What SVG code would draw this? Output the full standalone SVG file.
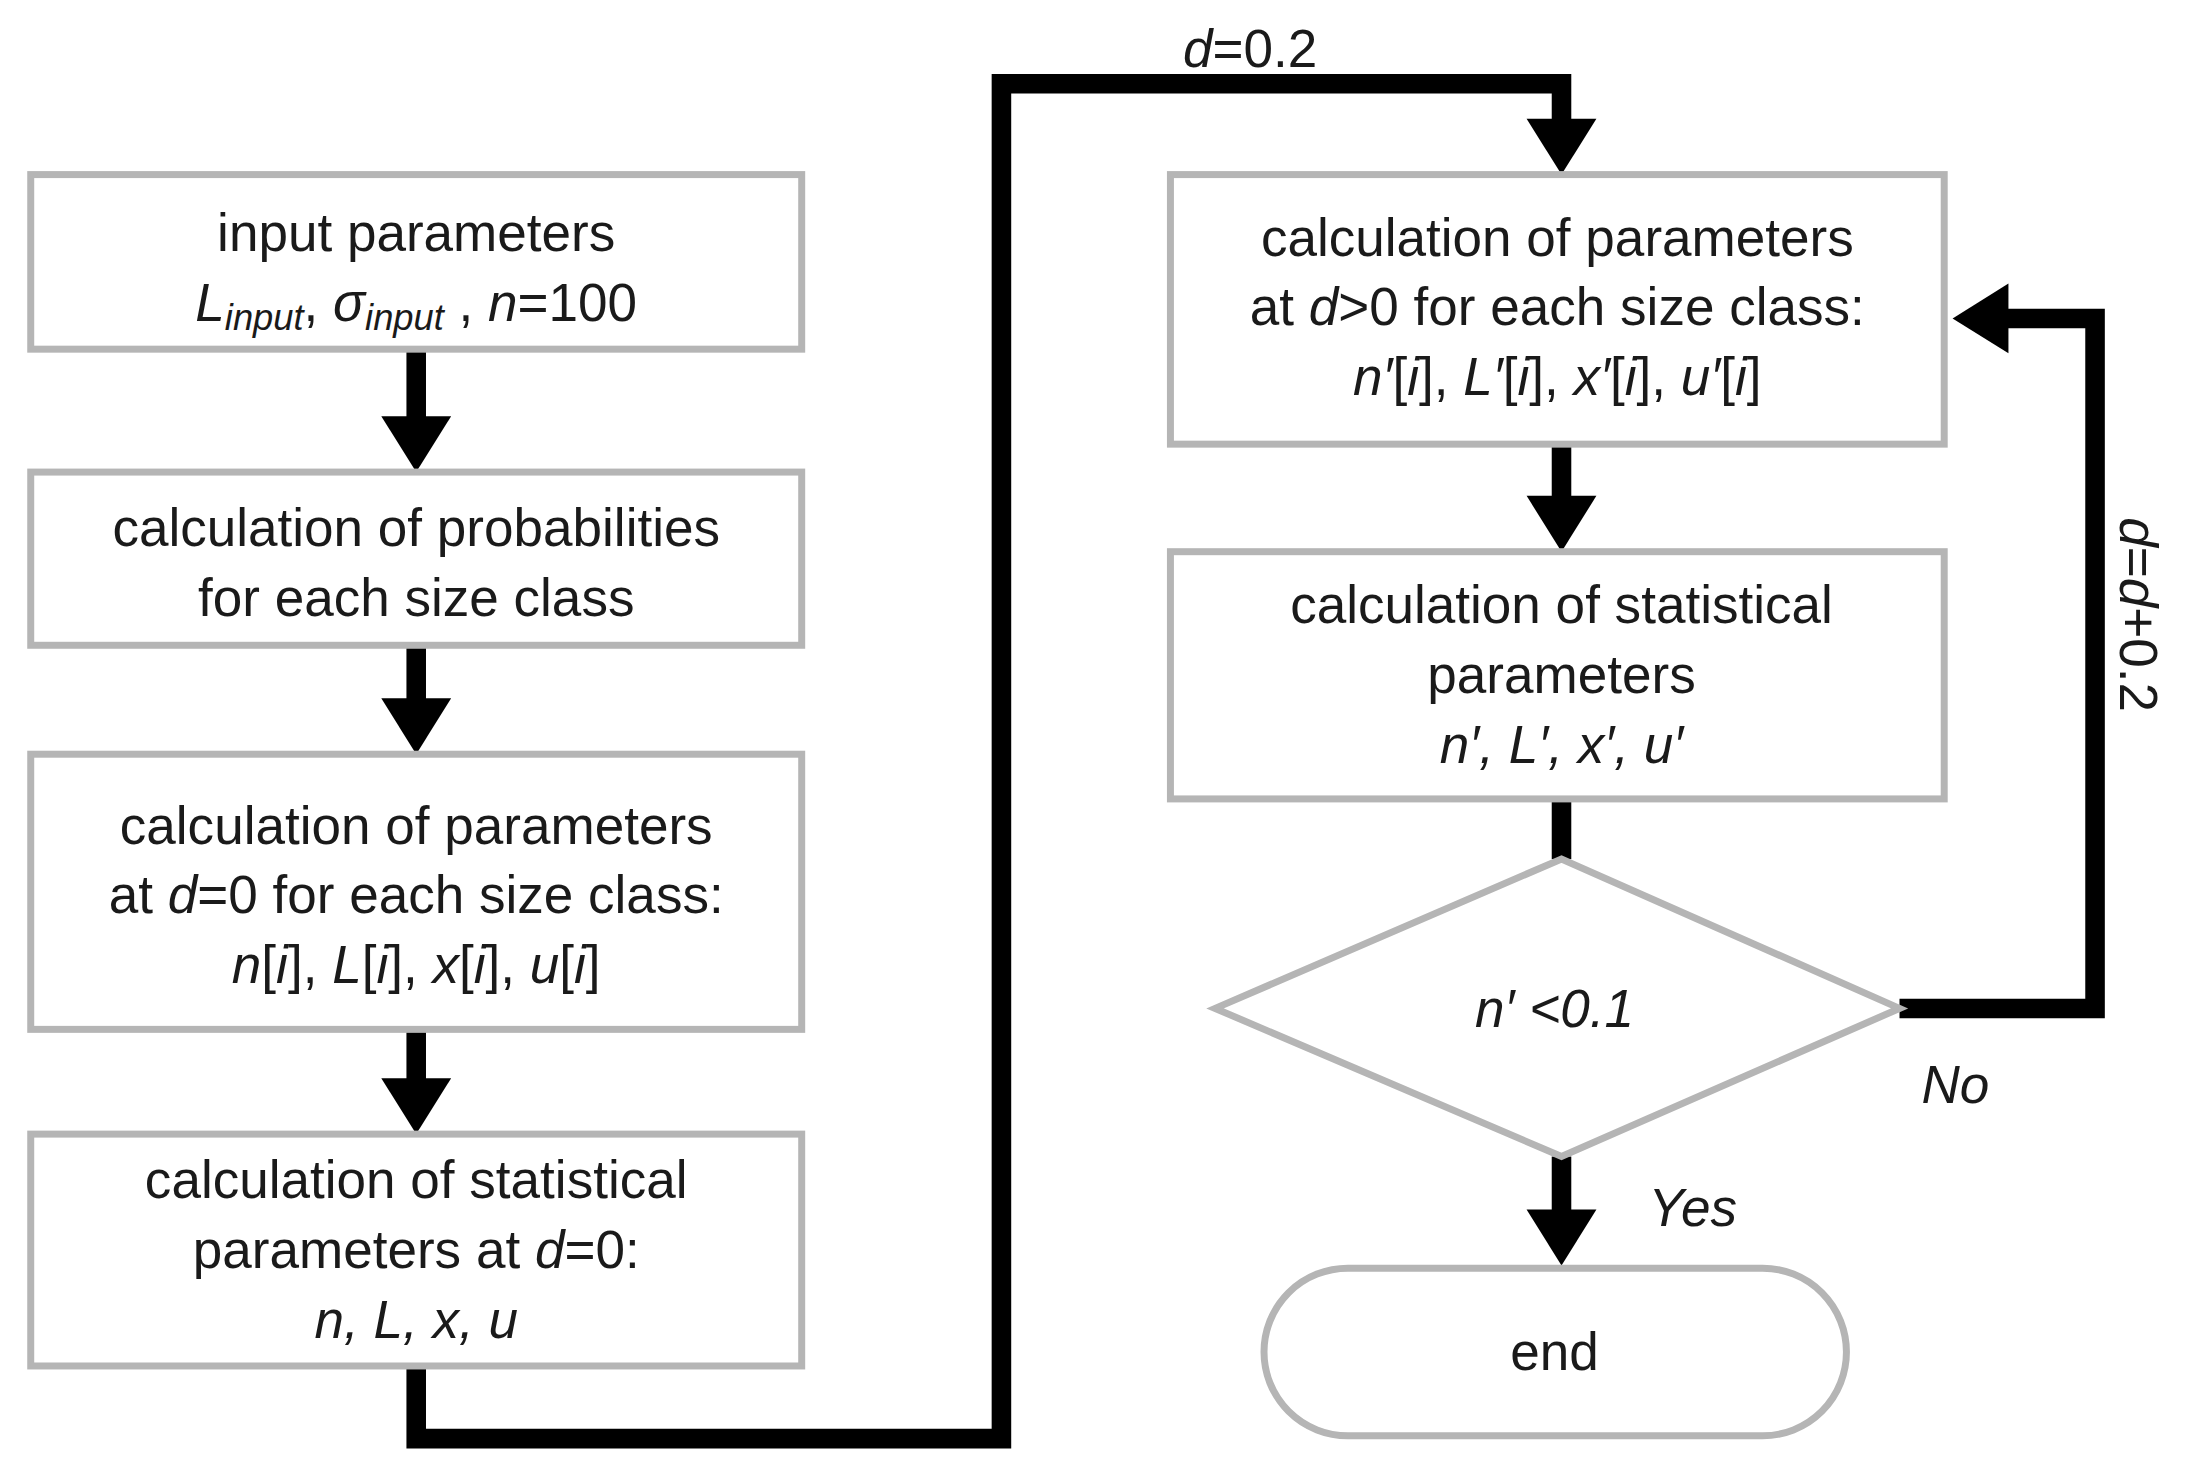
<svg xmlns="http://www.w3.org/2000/svg" width="2190" height="1477" viewBox="0 0 2190 1477">
<style>
.b{fill:#fff;stroke:#b5b5b5;stroke-width:5}
.t{font-family:"Liberation Sans",Arial,sans-serif;font-size:38px;text-anchor:middle;fill:#1a1a1a}
.i{font-style:italic}
.c{fill:none;stroke:#000;stroke-width:14}
.h{fill:#000}
</style>
<rect width="2190" height="1477" fill="#fff"/>
<g transform="scale(1.3967)">
<g id="connectors">
<line class="c" x1="298" y1="250" x2="298" y2="300"/><polygon class="h" points="273,298 323,298 298,338"/>
<line class="c" x1="298" y1="462" x2="298" y2="502"/><polygon class="h" points="273,500 323,500 298,540"/>
<line class="c" x1="298" y1="737" x2="298" y2="774"/><polygon class="h" points="273,772 323,772 298,812"/>
<polyline class="c" points="298,978 298,1030 717,1030 717,60 1118,60 1118,88"/><polygon class="h" points="1093,85 1143,85 1118,125"/>
<line class="c" x1="1118" y1="318" x2="1118" y2="357"/><polygon class="h" points="1093,355 1143,355 1118,395"/>
<line class="c" x1="1118" y1="572" x2="1118" y2="615"/>
<polyline class="c" points="1360,722 1500,722 1500,228 1435,228"/><polygon class="h" points="1438,203 1438,253 1398,228"/>
<line class="c" x1="1118" y1="828" x2="1118" y2="868"/><polygon class="h" points="1093,866 1143,866 1118,906"/>
<text class="t" x="895" y="48"><tspan class="i">d</tspan>=0.2</text>
<text class="t" transform="translate(1518,440) rotate(90)"><tspan class="i">d</tspan>=<tspan class="i">d</tspan>+0.2</text>
<text class="t i" x="1400" y="790">No</text>
<text class="t i" x="1212" y="878">Yes</text>
</g>
<g id="n1"><rect class="b" x="22" y="125" width="552" height="125"/>
<text class="t" x="298" y="180">input parameters</text>
<text class="t" x="298" y="230"><tspan class="i">L</tspan><tspan class="i" font-size="26" dy="6">input</tspan><tspan dy="-6">, </tspan><tspan class="i">σ</tspan><tspan class="i" font-size="26" dy="6">input</tspan><tspan dy="-6">  , </tspan><tspan class="i">n</tspan>=100</text></g>
<g id="n2"><rect class="b" x="22" y="338" width="552" height="124"/>
<text class="t" x="298" y="391">calculation of probabilities</text>
<text class="t" x="298" y="441">for each size class</text></g>
<g id="n3"><rect class="b" x="22" y="540" width="552" height="197"/>
<text class="t" x="298" y="604">calculation of parameters</text>
<text class="t" x="298" y="654">at <tspan class="i">d</tspan>=0 for each size class:</text>
<text class="t" x="298" y="704"><tspan class="i">n</tspan>[<tspan class="i">i</tspan>], <tspan class="i">L</tspan>[<tspan class="i">i</tspan>], <tspan class="i">x</tspan>[<tspan class="i">i</tspan>], <tspan class="i">u</tspan>[<tspan class="i">i</tspan>]</text></g>
<g id="n4"><rect class="b" x="22" y="812" width="552" height="166"/>
<text class="t" x="298" y="858">calculation of statistical</text>
<text class="t" x="298" y="908">parameters at <tspan class="i">d</tspan>=0:</text>
<text class="t i" x="298" y="958">n, L, x, u</text></g>
<g id="n5"><rect class="b" x="838" y="125" width="554" height="193"/>
<text class="t" x="1115" y="183">calculation of parameters</text>
<text class="t" x="1115" y="233">at <tspan class="i">d</tspan>&gt;0 for each size class:</text>
<text class="t" x="1115" y="283"><tspan class="i">n′</tspan>[<tspan class="i">i</tspan>], <tspan class="i">L′</tspan>[<tspan class="i">i</tspan>], <tspan class="i">x′</tspan>[<tspan class="i">i</tspan>], <tspan class="i">u′</tspan>[<tspan class="i">i</tspan>]</text></g>
<g id="n6"><rect class="b" x="838" y="395" width="554" height="177"/>
<text class="t" x="1118" y="446">calculation of statistical</text>
<text class="t" x="1118" y="496">parameters</text>
<text class="t i" x="1118" y="546">n′, L′, x′, u′</text></g>
<g id="n7"><polygon class="b" points="870,722 1118,615 1360,722 1118,828"/>
<text class="t i" x="1113" y="735">n′ &lt;0.1</text></g>
<g id="n8"><rect class="b" x="905" y="908" width="417" height="120" rx="60"/>
<text class="t" x="1113" y="981">end</text></g>
</g>
</svg>
